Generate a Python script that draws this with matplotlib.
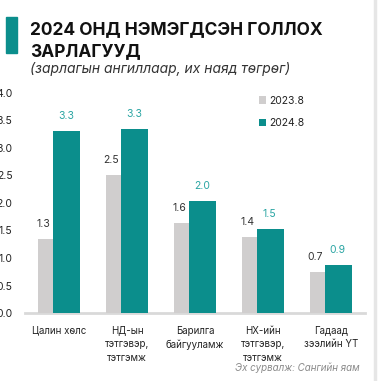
import numpy as np
import matplotlib
matplotlib.use('Agg')
import matplotlib.pyplot as plt
from matplotlib.patches import Rectangle

plt.rcParams['font.family'] = ['Inter', 'DejaVu Sans']

#data (trillion MNT)
categories = ['Цалин хөлс', 'НД-ын\nтэтгэвэр,\nтэтгэмж', 'Барилга\nбайгууламж',
              'НХ-ийн\nтэтгэвэр,\nтэтгэмж', 'Гадаад\nзээлийн ҮТ']
series_names = ['2023.8', '2024.8']
vals_2023 = [1.34, 2.51, 1.64, 1.38, 0.74]
vals_2024 = [3.31, 3.34, 2.04, 1.53, 0.87]
yticks = [0.0, 0.5, 1.0, 1.5, 2.0, 2.5, 3.0, 3.5, 4.0]

W, H = 384, 381
teal = '#0b8e8c'
grey = '#d0cece'
teal_txt = '#2aa5a3'

fig = plt.figure(figsize=(W/100, H/100), dpi=100)

#title block
fig.patches.append(Rectangle((6/W, 1-53/H), 11/W, 36/H, transform=fig.transFigure,
                             color=teal, zorder=2))
fig.text(30/W, 1-34/H, '2024 ОНД НЭМЭГДСЭН ГОЛЛОХ', fontsize=12.5, fontweight='bold',
         color='#111111', va='baseline')
fig.text(30/W, 1-56/H, 'ЗАРЛАГУУД', fontsize=12.5, fontweight='bold',
         color='#111111', va='baseline')
fig.text(30/W, 1-73/H, '(зарлагын ангиллаар, их наяд төгрөг)', fontsize=10,
         style='italic', color='#333333', va='baseline')

#right page border
fig.add_artist(plt.Line2D([375/W, 375/W], [0, 1], transform=fig.transFigure,
                          color='#e6e6e6', lw=2.5))

ax = fig.add_axes([25/W, 1-313/H, 340/W, 220/H])
x = np.arange(len(categories))
w = 0.41
off = 0.205

ax.bar(x - 0.1, vals_2023, w, color=grey, label=series_names[0], zorder=2)
ax.bar(x + off - 0.1 + 0.005, vals_2024, w, color=teal, label=series_names[1], zorder=3)

for i in range(len(categories)):
    ax.text(x[i] - 0.23, vals_2023[i] + 0.22, '%.1f' % vals_2023[i], ha='center',
            va='baseline', fontsize=7.5, color='#333333')
    ax.text(x[i] + 0.1, vals_2024[i] + 0.22, '%.1f' % vals_2024[i], ha='center',
            va='baseline', fontsize=7.5, color=teal_txt)

ax.set_xlim(-0.5, 4.5)
ax.set_ylim(0, 4.0)
ax.set_yticks(yticks)
ax.set_yticklabels(['%.1f' % v for v in yticks], fontsize=7.5, color='#222222')
ax.set_xticks(x)
ax.set_xticklabels(categories, fontsize=7, color='#222222', linespacing=1.45)
ax.tick_params(axis='both', length=0)
ax.tick_params(axis='y', pad=9)
ax.tick_params(axis='x', pad=9)
for s in ['top', 'right', 'left']:
    ax.spines[s].set_visible(False)
ax.spines['bottom'].set_color('#d9d9d9')
ax.spines['bottom'].set_linewidth(2)
ax.spines['bottom'].set_zorder(1)

leg = ax.legend(loc='upper left', bbox_to_anchor=(0.66, 1.03), frameon=False, fontsize=7.5,
                handlelength=0.7, handleheight=0.7, handletextpad=0.3, labelspacing=1.2)
for t in leg.get_texts():
    t.set_color('#222222')

fig.text(360/W, 1-371/H, 'Эх сурвалж: Сангийн яам', fontsize=7, style='italic',
         color='#8a8a8a', ha='right', va='baseline')

fig.savefig('out.png', dpi=100)
